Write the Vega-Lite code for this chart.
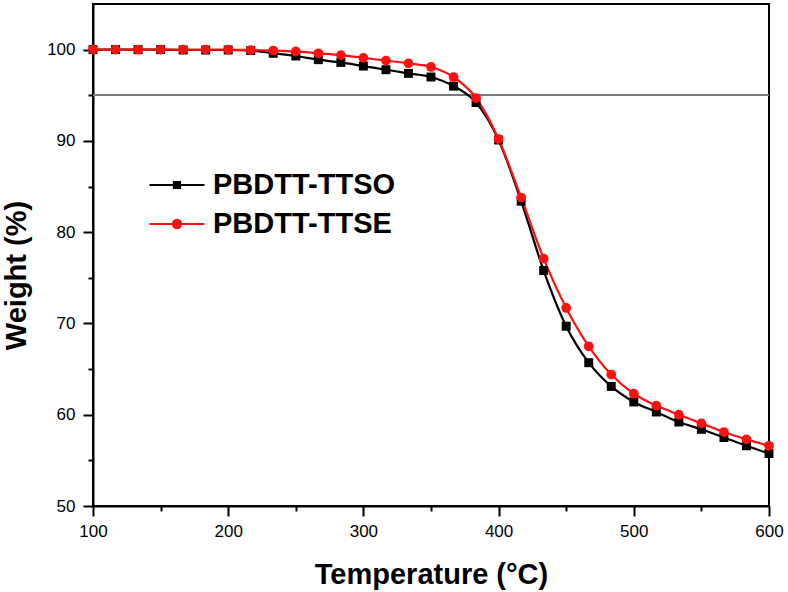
{
  "$schema": "https://vega.github.io/schema/vega-lite/v6.json",
  "width": 676,
  "height": 502,
  "autosize": {"type": "none"},
  "padding": {"left": 93, "top": 4, "right": 19, "bottom": 86},
  "background": "white",
  "config": {
    "view": {"stroke": "black", "strokeWidth": 2},
    "font": "Liberation Sans",
    "axis": {"grid": false, "domainColor": "black", "domainWidth": 2, "tickColor": "black", "tickWidth": 2, "labelColor": "black", "titleColor": "black", "labelFont": "Liberation Sans", "titleFont": "Liberation Sans"},
    "legend": {"orient": "none", "legendX": 69, "legendY": 166, "padding": 0,
      "labelFont": "Liberation Sans", "labelFontSize": 29, "labelFontWeight": "bold", "labelColor": "black", "labelLimit": 400,
      "symbolSize": 756, "symbolStrokeWidth": 2.2, "labelOffset": 21, "rowPadding": 9}
  },
  "data": {
    "values": [
      {"T": 100, "W": 100, "s": "PBDTT-TTSO"},
      {"T": 116.67, "W": 100, "s": "PBDTT-TTSO"},
      {"T": 133.33, "W": 100, "s": "PBDTT-TTSO"},
      {"T": 150, "W": 100, "s": "PBDTT-TTSO"},
      {"T": 166.67, "W": 99.96, "s": "PBDTT-TTSO"},
      {"T": 183.33, "W": 99.96, "s": "PBDTT-TTSO"},
      {"T": 200, "W": 99.96, "s": "PBDTT-TTSO"},
      {"T": 216.67, "W": 99.9, "s": "PBDTT-TTSO"},
      {"T": 233.33, "W": 99.6, "s": "PBDTT-TTSO"},
      {"T": 250, "W": 99.3, "s": "PBDTT-TTSO"},
      {"T": 266.67, "W": 98.9, "s": "PBDTT-TTSO"},
      {"T": 283.33, "W": 98.6, "s": "PBDTT-TTSO"},
      {"T": 300, "W": 98.2, "s": "PBDTT-TTSO"},
      {"T": 316.67, "W": 97.8, "s": "PBDTT-TTSO"},
      {"T": 333.33, "W": 97.4, "s": "PBDTT-TTSO"},
      {"T": 350, "W": 97.0, "s": "PBDTT-TTSO"},
      {"T": 366.67, "W": 96.0, "s": "PBDTT-TTSO"},
      {"T": 383.33, "W": 94.2, "s": "PBDTT-TTSO"},
      {"T": 400, "W": 90.1, "s": "PBDTT-TTSO"},
      {"T": 416.67, "W": 83.4, "s": "PBDTT-TTSO"},
      {"T": 433.33, "W": 75.8, "s": "PBDTT-TTSO"},
      {"T": 450, "W": 69.7, "s": "PBDTT-TTSO"},
      {"T": 466.67, "W": 65.7, "s": "PBDTT-TTSO"},
      {"T": 483.33, "W": 63.1, "s": "PBDTT-TTSO"},
      {"T": 500, "W": 61.4, "s": "PBDTT-TTSO"},
      {"T": 516.67, "W": 60.3, "s": "PBDTT-TTSO"},
      {"T": 533.33, "W": 59.2, "s": "PBDTT-TTSO"},
      {"T": 550, "W": 58.4, "s": "PBDTT-TTSO"},
      {"T": 566.67, "W": 57.5, "s": "PBDTT-TTSO"},
      {"T": 583.33, "W": 56.6, "s": "PBDTT-TTSO"},
      {"T": 600, "W": 55.75, "s": "PBDTT-TTSO"},
      {"T": 100, "W": 100, "s": "PBDTT-TTSE"},
      {"T": 116.67, "W": 100, "s": "PBDTT-TTSE"},
      {"T": 133.33, "W": 100, "s": "PBDTT-TTSE"},
      {"T": 150, "W": 100, "s": "PBDTT-TTSE"},
      {"T": 166.67, "W": 100, "s": "PBDTT-TTSE"},
      {"T": 183.33, "W": 100, "s": "PBDTT-TTSE"},
      {"T": 200, "W": 100, "s": "PBDTT-TTSE"},
      {"T": 216.67, "W": 99.96, "s": "PBDTT-TTSE"},
      {"T": 233.33, "W": 99.9, "s": "PBDTT-TTSE"},
      {"T": 250, "W": 99.8, "s": "PBDTT-TTSE"},
      {"T": 266.67, "W": 99.6, "s": "PBDTT-TTSE"},
      {"T": 283.33, "W": 99.4, "s": "PBDTT-TTSE"},
      {"T": 300, "W": 99.1, "s": "PBDTT-TTSE"},
      {"T": 316.67, "W": 98.8, "s": "PBDTT-TTSE"},
      {"T": 333.33, "W": 98.5, "s": "PBDTT-TTSE"},
      {"T": 350, "W": 98.1, "s": "PBDTT-TTSE"},
      {"T": 366.67, "W": 97.0, "s": "PBDTT-TTSE"},
      {"T": 383.33, "W": 94.7, "s": "PBDTT-TTSE"},
      {"T": 400, "W": 90.2, "s": "PBDTT-TTSE"},
      {"T": 416.67, "W": 83.8, "s": "PBDTT-TTSE"},
      {"T": 433.33, "W": 77.1, "s": "PBDTT-TTSE"},
      {"T": 450, "W": 71.7, "s": "PBDTT-TTSE"},
      {"T": 466.67, "W": 67.5, "s": "PBDTT-TTSE"},
      {"T": 483.33, "W": 64.4, "s": "PBDTT-TTSE"},
      {"T": 500, "W": 62.3, "s": "PBDTT-TTSE"},
      {"T": 516.67, "W": 61.0, "s": "PBDTT-TTSE"},
      {"T": 533.33, "W": 60.0, "s": "PBDTT-TTSE"},
      {"T": 550, "W": 59.05, "s": "PBDTT-TTSE"},
      {"T": 566.67, "W": 58.1, "s": "PBDTT-TTSE"},
      {"T": 583.33, "W": 57.3, "s": "PBDTT-TTSE"},
      {"T": 600, "W": 56.6, "s": "PBDTT-TTSE"}
    ]
  },
  "layer": [
    {
      "mark": {"type": "rule", "color": "#7a7a7a", "strokeWidth": 1.5},
      "encoding": {
        "y": {"datum": 95, "type": "quantitative", "axis": null}
      }
    },
    {
      "mark": {"type": "line", "interpolate": "monotone", "strokeWidth": 2.2},
      "encoding": {
        "x": {"field": "T", "type": "quantitative", "scale": {"domain": [100, 600], "nice": false, "zero": false},
          "axis": {"orient": "bottom", "values": [100, 200, 300, 400, 500, 600], "title": "Temperature (°C)", "titleFontSize": 29, "titleFontWeight": "bold", "titleY": 77, "titleBaseline": "alphabetic", "labelFontSize": 17, "tickSize": 10, "labelPadding": 7, "labelFlush": false}},
        "y": {"field": "W", "type": "quantitative", "scale": {"domain": [50, 105], "nice": false, "zero": false},
          "axis": {"orient": "left", "values": [50, 60, 70, 80, 90, 100], "title": "Weight (%)", "titleFontSize": 29, "titleFontWeight": "bold", "titleX": -68, "titleY": 271, "titleBaseline": "alphabetic", "labelFontSize": 17, "tickSize": 10, "labelPadding": 8}},
        "color": {"field": "s", "type": "nominal", "scale": {"domain": ["PBDTT-TTSO", "PBDTT-TTSE"], "range": ["black", "#ff1010"]},
          "legend": {"title": null,
            "encode": {"symbols": {"update": {
              "shape": {"signal": "datum.value === 'PBDTT-TTSO' ? 'M-2,0H2M-0.22,-0.22H0.22V0.22H-0.22Z' : 'M-2,0H2M-0.3,0A0.3,0.3,0,1,0,0.3,0A0.3,0.3,0,1,0,-0.3,0Z'"},
              "fill": {"signal": "datum.value === 'PBDTT-TTSO' ? 'black' : '#ff1010'"},
              "stroke": {"signal": "datum.value === 'PBDTT-TTSO' ? 'black' : '#ff1010'"},
              "opacity": {"value": 1}
            }}}}}
      }
    },
    {
      "transform": [{"filter": "datum.s === 'PBDTT-TTSO'"}],
      "mark": {"type": "point", "shape": "square", "filled": true, "opacity": 1, "color": "black", "size": 80},
      "encoding": {
        "x": {"field": "T", "type": "quantitative",
          "axis": {"orient": "bottom", "values": [150, 250, 350, 450, 550], "labels": false, "domain": false, "title": null, "tickSize": 5}},
        "y": {"field": "W", "type": "quantitative",
          "axis": {"orient": "left", "values": [55, 65, 75, 85, 95], "labels": false, "domain": false, "title": null, "tickSize": 5}}
      }
    },
    {
      "transform": [{"filter": "datum.s === 'PBDTT-TTSE'"}],
      "mark": {"type": "point", "shape": "circle", "filled": true, "opacity": 1, "color": "#ff1010", "size": 95},
      "encoding": {
        "x": {"field": "T", "type": "quantitative", "axis": null},
        "y": {"field": "W", "type": "quantitative", "axis": null}
      }
    }
  ],
  "resolve": {"axis": {"x": "independent", "y": "independent"}}
}
